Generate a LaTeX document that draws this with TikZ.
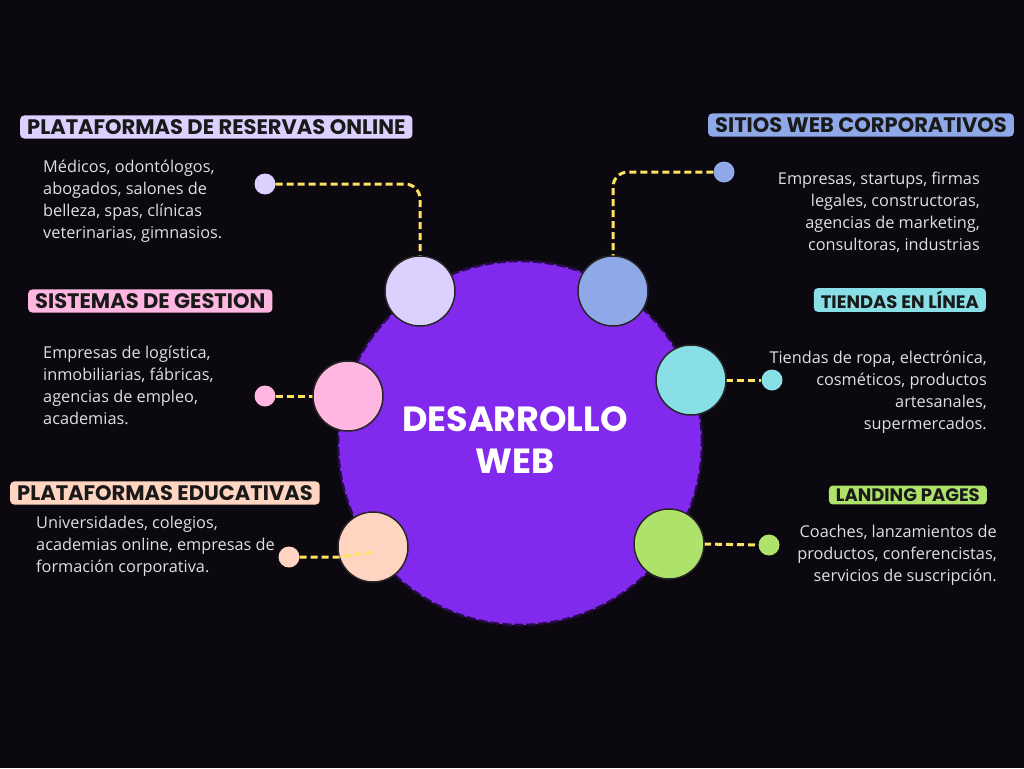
\documentclass[tikz,border=0pt]{standalone}
\usepackage{fontspec}
\setmainfont{Open Sans}
\newfontfamily\headfont{Poppins}[UprightFont=* Bold]
\begin{document}
\begin{tikzpicture}[x=1pt,y=-1pt,
 conn/.style={draw=yellow!70!orange!60!white,line width=3pt,dash pattern=on 7pt off 4pt,rounded corners=15pt},
 bub/.style={circle,draw=black!85,line width=1.5pt,minimum size=70pt,inner sep=0},
 dotn/.style={circle,minimum size=21pt,inner sep=0},
 tag/.style={rounded corners=4pt,inner xsep=7pt,inner ysep=4pt,font=\headfont\fontsize{21}{22}\selectfont,text=black!90},
 stag/.style={tag,font=\headfont\fontsize{18}{19}\selectfont,inner ysep=3pt},
 desc/.style={text=white!88!black,font=\fontsize{16.3}{22}\selectfont,inner sep=0}]
\definecolor{bg}{HTML}{0C080F}
\definecolor{lav}{HTML}{DCD0FF}\definecolor{blu}{HTML}{8FA8E8}
\definecolor{pnk}{HTML}{FFB7E1}\definecolor{cya}{HTML}{88E0E6}
\definecolor{pch}{HTML}{FFD5C2}\definecolor{grn}{HTML}{AEE26A}
\definecolor{pur}{HTML}{8229EE}
\fill[bg] (0,0) rectangle (1024,768);
\useasboundingbox (0,0) rectangle (1024,768);
\node[circle,fill=pur,draw=black!70!pur,line width=2.5pt,dash pattern=on 9pt off 3pt,minimum size=364pt] (c) at (520,443) {};
\node[text=white,align=center,font=\headfont\fontsize{35}{42}\selectfont] (ct) at (515,440) {DESARROLLO\\WEB};
% dots
\node[dotn,fill=lav] (d1) at (265,184) {};
\node[dotn,fill=blu] (d2) at (724,172) {};
\node[dotn,fill=pnk] (d3) at (265,396) {};
\node[dotn,fill=cya] (d4) at (772,380) {};
\node[dotn,fill=pch] (d5) at (289,557) {};
\node[dotn,fill=grn] (d6) at (769,545) {};
\coordinate (e5) at (373,552);
% connectors
\draw[conn] (d1.east) -| (420,256);
\draw[conn] (d2.west) -| (613,256);
\draw[conn] (d3.east) -- (313,396);
\draw[conn] (726,380) -- (d4.west);
\draw[conn] (704,544) -- (d6.west);
% bubbles
\node[bub,fill=lav] (b1) at (420,291) {};
\node[bub,fill=blu] (b2) at (613,291) {};
\node[bub,fill=pnk] (b3) at (348,396) {};
\node[bub,fill=cya] (b4) at (691,380) {};
\node[bub,fill=pch] (b5) at (373,547) {};
\node[bub,fill=grn] (b6) at (669,544) {};
\draw[conn,rounded corners=0] (d5.east) -- (340,557) -- (e5);
% tags
\node[tag,fill=lav,anchor=west] (t1) at (20,127) {PLATAFORMAS DE RESERVAS ONLINE};
\node[tag,fill=blu,anchor=east] (t2) at (1014,125) {SITIOS WEB CORPORATIVOS};
\node[tag,fill=pnk,anchor=west] (t3) at (28,301) {SISTEMAS DE GESTION};
\node[stag,fill=cya,anchor=east] (t4) at (986,300) {TIENDAS EN LÍNEA};
\node[tag,fill=pch,anchor=west] (t5) at (10,493) {PLATAFORMAS EDUCATIVAS};
\node[stag,fill=grn,anchor=east] (t6) at (987,495) {LANDING PAGES};
% descriptions
\node[desc,align=left,anchor=north west] (x1) at (43,160) {Médicos, odontólogos,\\abogados, salones de\\belleza, spas, clínicas\\veterinarias, gimnasios.};
\node[desc,align=right,anchor=north east] (x2) at (980,172) {Empresas, startups, firmas\\legales, constructoras,\\agencias de marketing,\\consultoras, industrias};
\node[desc,align=left,anchor=north west] (x3) at (43,346) {Empresas de logística,\\inmobiliarias, fábricas,\\agencias de empleo,\\academias.};
\node[desc,align=right,anchor=north east] (x4) at (987,351) {Tiendas de ropa, electrónica,\\cosméticos, productos\\artesanales,\\supermercados.};
\node[desc,align=left,anchor=north west] (x5) at (36,516) {Universidades, colegios,\\academias online, empresas de\\formación corporativa.};
\node[desc,align=right,anchor=north east] (x6) at (997,525) {Coaches, lanzamientos de\\productos, conferencistas,\\servicios de suscripción.};
\end{tikzpicture}
\end{document}
